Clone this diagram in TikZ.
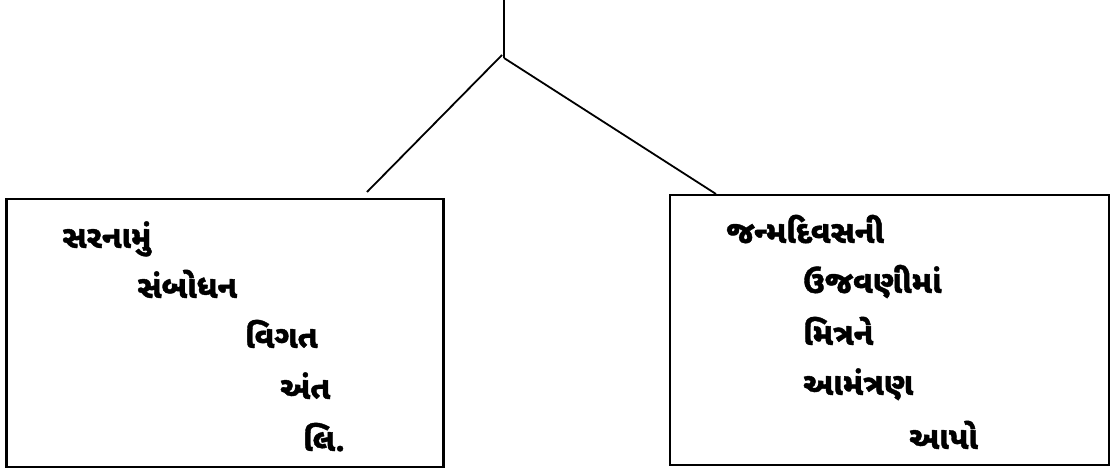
\documentclass[tikz,border=0pt]{standalone}
\usepackage{fontspec}
\newfontfamily\guj[Script=Gujarati,BoldFeatures={FakeBold=1.2}]{Noto Sans Gujarati UI}
\begin{document}
\begin{tikzpicture}[x=1pt,y=-1pt,
  box/.style={draw,line width=2.2pt,inner sep=0pt},
  conn/.style={line width=1.8pt},
  word/.style={anchor=base west,inner sep=0pt,font=\guj\bfseries\fontsize{31.5}{36}\selectfont}]
\useasboundingbox (0,0) rectangle (1116,471);
% boxes
\node[box,minimum width=437pt,minimum height=268pt] (L) at (225,333) {};
\node[box,minimum width=439pt,minimum height=270pt] (R) at (889.5,330) {};
% connectors
\coordinate (top) at (504,0);
\coordinate (j) at (504,58);
\coordinate (jl) at (502,55);
\coordinate (le) at (367,192);
\coordinate (re) at (716,194);
\draw[conn] (top) -- (j);
\draw[conn] (jl) -- (le);
\draw[conn] (j) -- (re);
% left texts
\node[word] (l1) at (62,248) {સરનામું};
\node[word] (l2) at (137,298) {સંબોધન};
\node[word] (l3) at (245,348) {વિગત};
\node[word] (l4) at (280,399) {અંત};
\node[word] (l5) at (303,451) {લિ.};
% right texts
\node[word] (r1) at (726,243) {જન્મદિવસની};
\node[word] (r2) at (803,293) {ઉજવણીમાં};
\node[word] (r3) at (803,345) {મિત્રને};
\node[word] (r4) at (803,395) {આમંત્રણ};
\node[word] (r5) at (909,449) {આપો};
\end{tikzpicture}
\end{document}
